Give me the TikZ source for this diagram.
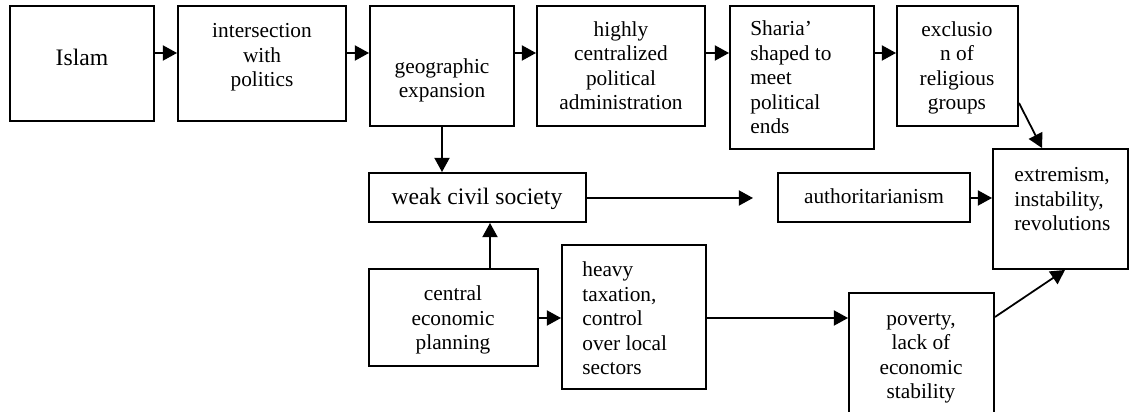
\documentclass[tikz,border=0pt]{standalone}
\usepackage{fontspec}
\setmainfont{Liberation Serif}
\usetikzlibrary{arrows.meta,fit}
\begin{document}
\begin{tikzpicture}[x=0.5625pt,y=-0.5625pt,
  box/.style={draw,line width=1.1pt,inner sep=0pt,fit={#1}},
  lbl/.style={font=\fontsize{12}{13.8}\selectfont,inner sep=0pt,align=center,anchor=base},
  lbll/.style={font=\fontsize{12}{13.8}\selectfont,inner sep=0pt,align=left,anchor=base west},
  big/.style={font=\fontsize{13.3}{15.3}\selectfont},
  conn/.style={line width=1pt,-{Triangle[length=8pt,width=8.5pt]}}]
\clip (0,0) rectangle (1133,412);
\fill[white] (0,0) rectangle (1133,412);

% boxes
\node[box={(10,6)(154,121)}] (islam) {};
\node[box={(178,6)(346,121)}] (inter) {};
\node[box={(370,6)(514,126)}] (geo) {};
\node[box={(537,6)(705,126)}] (admin) {};
\node[box={(730,6)(874,149)}] (sharia) {};
\node[box={(897,6)(1018,126)}] (excl) {};
\node[box={(993,149)(1128,269)}] (extr) {};
\node[box={(369,173)(586,222)}] (wcs) {};
\node[box={(778,173)(970,222)}] (auth) {};
\node[box={(369,269)(538,366)}] (cep) {};
\node[box={(562,245)(706,389)}] (heavy) {};
\node[box={(849,293)(994,420)}] (pov) {};

% texts (each placed at the baseline of its last line)
\node[lbl,big] (islamT) at (82,66) {Islam};
\node[lbl] (interT) at (262,87) {intersection\\with\\politics};
\node[lbl] (geoT) at (442,98) {geographic\\expansion};
\node[lbl] (adminT) at (621,110) {highly\\centralized\\political\\administration};
\node[lbll] (shariaT) at (750,134) {Sharia’\\shaped to\\meet\\political\\ends};
\node[lbl] (exclT) at (957,110) {exclusio\\n of\\religious\\groups};
\node[lbll] (extrT) at (1014,231) {extremism,\\instability,\\revolutions};
\node[lbl,big] (wcsT) at (477,205) {weak civil society};
\node[lbl] (authT) at (874,204) {authoritarianism};
\node[lbl] (cepT) at (453,350) {central\\economic\\planning};
\node[lbll] (heavyT) at (582,375) {heavy\\taxation,\\control\\over local\\sectors};
\node[lbl] (povT) at (921,399) {poverty,\\lack of\\economic\\stability};

% connector levels
\coordinate (rowA) at (0,53);
\coordinate (exA) at (0,103);
\coordinate (exB) at (1042,0);
\coordinate (rowB) at (0,198);
\coordinate (rowC) at (0,318);
\coordinate (colG) at (442,0);
\coordinate (colC) at (490,0);
\coordinate (povA) at (0,317);
\coordinate (povB) at (1065,0);
\coordinate (wcsEnd) at (753,198);

% connectors
\draw[conn] (islam.east |- rowA) -- (inter.west |- rowA);
\draw[conn] (inter.east |- rowA) -- (geo.west |- rowA);
\draw[conn] (geo.east |- rowA) -- (admin.west |- rowA);
\draw[conn] (admin.east |- rowA) -- (sharia.west |- rowA);
\draw[conn] (sharia.east |- rowA) -- (excl.west |- rowA);
\draw[conn] (excl.east |- exA) -- (extr.north -| exB);
\draw[conn] (geo.south -| colG) -- (wcs.north -| colG);
\draw[conn] (cep.north -| colC) -- (wcs.south -| colC);
\draw[conn] (wcs.east |- rowB) -- (wcsEnd);
\draw[conn] (auth.east |- rowB) -- (extr.west |- rowB);
\draw[conn] (cep.east |- rowC) -- (heavy.west |- rowC);
\draw[conn] (heavy.east |- rowC) -- (pov.west |- rowC);
\draw[conn] (pov.east |- povA) -- (extr.south -| povB);
\end{tikzpicture}
\end{document}
